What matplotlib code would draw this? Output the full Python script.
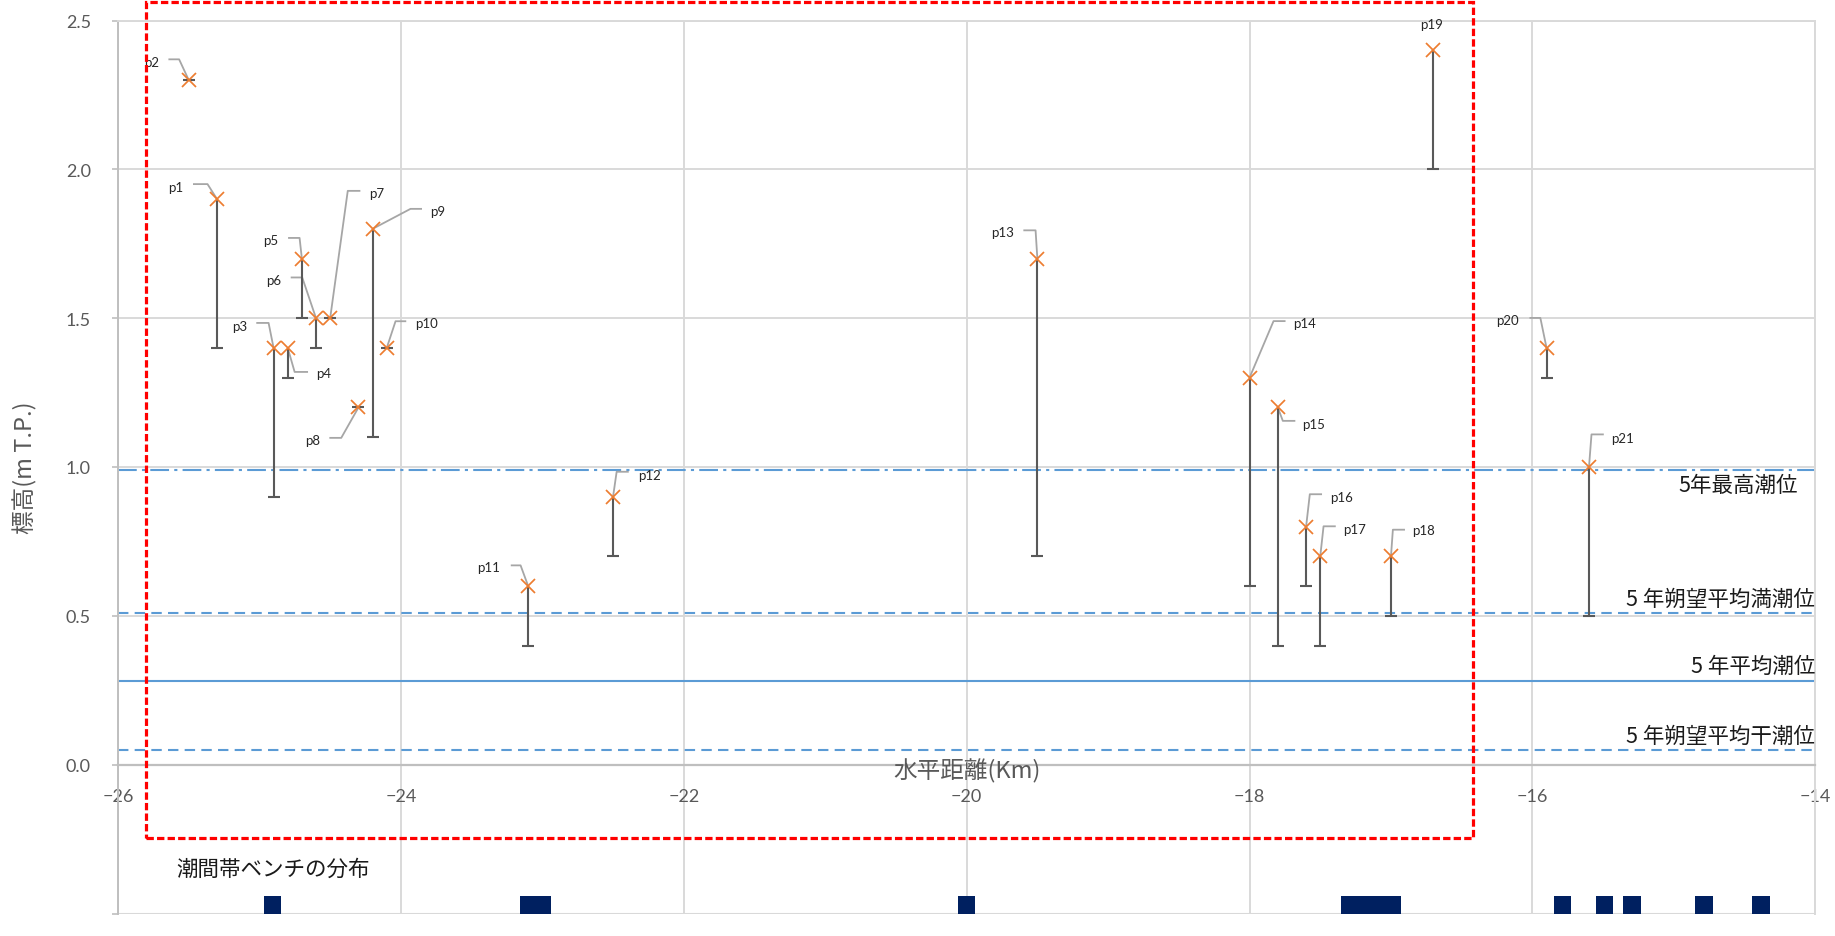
import matplotlib
matplotlib.use("Agg")
import matplotlib.pyplot as plt
from matplotlib.patches import Rectangle

plt.rcParams['font.family'] = ['Lato', 'Noto Sans CJK JP', 'DejaVu Sans']

# ---------------- data ----------------
point_names = ["p1", "p2", "p3", "p4", "p5", "p6", "p7", "p8", "p9", "p10", "p11",
               "p12", "p13", "p14", "p15", "p16", "p17", "p18", "p19", "p20", "p21"]
point_x = [-25.3, -25.5, -24.9, -24.8, -24.7, -24.6, -24.5, -24.3, -24.2, -24.1, -23.1,
           -22.5, -19.5, -18.0, -17.8, -17.6, -17.5, -17.0, -16.7, -15.9, -15.6]
point_top = [1.9, 2.3, 1.4, 1.4, 1.7, 1.5, 1.5, 1.2, 1.8, 1.4, 0.6,
             0.9, 1.7, 1.3, 1.2, 0.8, 0.7, 0.7, 2.4, 1.4, 1.0]
point_bottom = [1.4, 2.3, 0.9, 1.3, 1.5, 1.4, 1.5, 1.2, 1.1, 1.4, 0.4,
                0.7, 0.7, 0.6, 0.4, 0.6, 0.4, 0.5, 2.0, 1.3, 0.5]

tide_names = ["5年最高潮位", "5 年朔望平均満潮位", "5 年平均潮位", "5 年朔望平均干潮位"]
tide_levels = [0.99, 0.51, 0.28, 0.05]

bench_start = [-24.97, -23.16, -20.06, -17.35, -15.85, -15.55, -15.36, -14.85, -14.45]
bench_end = [-24.85, -22.94, -19.94, -16.93, -15.73, -15.43, -15.23, -14.72, -14.32]

x_ticks = [-26, -24, -22, -20, -18, -16, -14]
y_ticks = [-0.5, 0.0, 0.5, 1.0, 1.5, 2.0, 2.5]
y_ticklabels = ["", "0.0", "0.5", "1.0", "1.5", "2.0", "2.5"]

focus_box = [-25.80, -0.247, -16.42, 2.563]  # x0, y0, x1, y1

# ---------------- layout / style ----------------
# label layout in pixels relative to the point: text(dx,dy), leader elbow(ex,ey), leader end x
label_layout = [
    (-41, -12.5, -9.5, -15, -24), (-37, -18.4, -9.6, -20.7, -20.3), (-34, -22, -5, -25, -17.3),
    (35.5, 25, 6.9, 24, 20.3), (-31.6, -18.3, -2.3, -20.7, -13.8), (-42, -38.3, -13.8, -40.7, -25.3),
    (46.8, -125, 17.6, -127.3, 30.2), (-45.6, 32.7, -17.2, 30.4, -29.1), (65.5, -18.3, 37.9, -20, 49.4),
    (39.4, -25, 8.8, -26.7, 19.5), (-39.3, -18.7, -7.6, -20.7, -17.4), (36.4, -21.6, 3.6, -25, 15.7),
    (-35, -27, -1.8, -28.3, -14), (55.5, -54.3, 24, -56.6, 36), (36, 16.7, 5, 13.4, 17.5),
    (35.6, -30, 3.7, -32.3, 15.9), (34.7, -27.5, 3.3, -30, 15.5), (32.7, -25.8, 1.9, -26.6, 14),
    (-1.5, -25.9, None, None, None), (-39.2, -27.5, -6.2, -30, -17.1), (34, -29.3, 2.5, -32.6, 14.8),
]
tide_styles = [
    dict(linestyle=(0, (9, 2.5, 1.5, 2.5))),
    dict(linestyle=(0, (5, 3))),
    dict(linestyle='-'),
    dict(linestyle=(0, (5, 3))),
]
tide_label_pos = [(-14.12, 0.94), (-14.0, 0.555), (-14.0, 0.331), (-14.0, 0.096)]

GRID = "#D9D9D9"
AXC = "#BFBFBF"
TXT = "#595959"
BLUE = "#5B9BD5"
ORANGE = "#ED7D31"
BAR = "#595959"
CJK = ['Noto Sans CJK JP', 'DejaVu Sans']

fig = plt.figure(figsize=(18.35, 9.37), dpi=100)
ax = fig.add_axes([118 / 1835, 22.5 / 937, (1815.3 - 118) / 1835, (914.5 - 21.5) / 937])
ax.set_xlim(-26, -14)
ax.set_ylim(-0.5, 2.5)

# grid
ax.set_xticks(x_ticks)
ax.set_yticks(y_ticks)
ax.set_yticklabels(y_ticklabels)
ax.grid(True, color=GRID, linewidth=1.4, zorder=0)
ax.set_axisbelow(True)

for side in ["top", "right"]:
    ax.spines[side].set_color(GRID)
    ax.spines[side].set_linewidth(1.4)
ax.spines["left"].set_color(AXC)
ax.spines["left"].set_linewidth(1.4)
ax.spines["bottom"].set_position(("data", 0))
ax.spines["bottom"].set_color(AXC)
ax.spines["bottom"].set_linewidth(1.6)
ax.axhline(-0.5, color=GRID, linewidth=2.2, zorder=0.5)

ax.tick_params(axis="x", length=0, pad=17, labelsize=13, labelcolor=TXT)
ax.tick_params(axis="y", length=4.5, width=1.2, color=AXC, pad=15, labelsize=13, labelcolor=TXT)

# tide reference lines
for lvl, sty, name, pos in zip(tide_levels, tide_styles, tide_names, tide_label_pos):
    ax.axhline(lvl, color=BLUE, linewidth=1.5, zorder=1, **sty)
    ax.text(pos[0], pos[1], name, ha="right", va="center", fontsize=15.5,
            color="#1A1A1A", family=CJK, zorder=3)

# lower error bars: stem + bottom cap only
ax.vlines(point_x, point_bottom, point_top, colors=BAR, linewidth=1.5, zorder=3)
ax.plot(point_x, point_bottom, linestyle="none", marker="_", markersize=9,
        markeredgewidth=1.5, color=BAR, zorder=3)
ax.plot(point_x, point_top, linestyle="none", marker="x", markersize=10,
        markeredgewidth=1.25, color=ORANGE, zorder=4)

# point labels with leader lines
inv = ax.transData.inverted()
for name, xv, yv, lay in zip(point_names, point_x, point_top, label_layout):
    X, Y = ax.transData.transform((xv, yv))
    tdx, tdy, ex, ey, hx = lay
    tx, ty = inv.transform((X + tdx, Y - tdy))
    ax.text(tx, ty, name, ha="center", va="center", fontsize=9.5, color="#262626", zorder=5)
    if ex is not None:
        p_el = inv.transform((X + ex, Y - ey))
        p_end = inv.transform((X + hx, Y - ey))
        ax.plot([xv, p_el[0], p_end[0]], [yv, p_el[1], p_end[1]], color="#A6A6A6",
                linewidth=1.3, zorder=2.5, solid_capstyle="butt")

# tidal bench distribution
bench_w = [e - s for s, e in zip(bench_start, bench_end)]
ax.bar(bench_start, 0.06, width=bench_w, bottom=-0.5, align="edge", color="#002060", zorder=3)
ax.text(-25.59, -0.351, "潮間帯ベンチの分布", ha="left", va="center", fontsize=15.5,
        color="#1A1A1A", family=CJK)

# axis labels
ax.text(-20, -0.02, "水平距離(Km)", ha="center", va="center", fontsize=17, color=TXT,
        family=CJK, zorder=3)
fig.text(25 / 1835, 1 - 468 / 937, "標高(m T.P.)", rotation=90, ha="center", va="center",
         fontsize=17, color=TXT, family=CJK)

# red focus box
x0, y0, x1, y1 = focus_box
ax.add_patch(Rectangle((x0, y0), x1 - x0, y1 - y0, fill=False, edgecolor="#FF0000",
                       linewidth=2.3, linestyle=(0, (2.3, 1.0)), clip_on=False, zorder=6))

fig.savefig("out.png", dpi=100)
